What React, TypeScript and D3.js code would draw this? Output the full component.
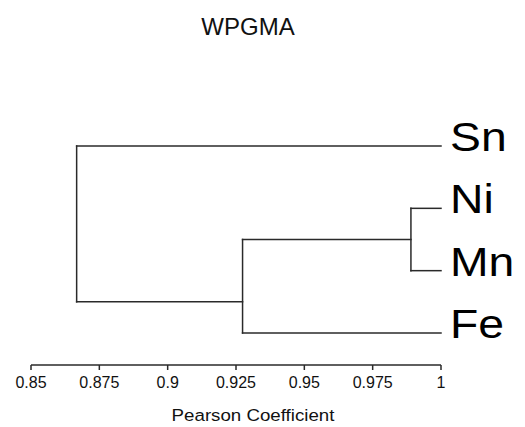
import React from "react";
import * as d3 from "d3";

const leaves = ["Sn", "Ni", "Mn", "Fe"];
// merges: [left child, right child, similarity]
const merges: [string, string, number][] = [
  ["Ni", "Mn", 0.989],
  ["Ni+Mn", "Fe", 0.9274],
  ["Sn", "Ni+Mn+Fe", 0.8667],
];
const tickValues = [0.85, 0.875, 0.9, 0.925, 0.95, 0.975, 1];
const tickLabels = ["0.85", "0.875", "0.9", "0.925", "0.95", "0.975", "1"];
const title = "WPGMA";
const xTitle = "Pearson Coefficient";

const W = 525;
const H = 427;
const FONT = "'Liberation Sans', Arial, sans-serif";
const STROKE = "#2a2a2a";

export default function App() {
  const x = d3.scaleLinear().domain([0.85, 1]).range([31, 441]);
  const y = d3.scalePoint<string>().domain(leaves).range([146, 333]);

  type Node = { name: string; x: number; y: number; first: string; last: string };
  const nodes: Record<string, Node> = {};
  leaves.forEach((l) => {
    nodes[l] = { name: l, x: x(1), y: y(l)!, first: l, last: l };
  });
  const segs: { x1: number; y1: number; x2: number; y2: number }[] = [];
  merges.forEach(([a, b, s]) => {
    const A = nodes[a];
    const B = nodes[b];
    const nx = x(s);
    const ny = (y(A.last)! + y(B.first)!) / 2;
    segs.push({ x1: nx, y1: A.y, x2: nx, y2: B.y });
    segs.push({ x1: nx, y1: A.y, x2: A.x, y2: A.y });
    segs.push({ x1: nx, y1: B.y, x2: B.x, y2: B.y });
    const name = a + "+" + b;
    nodes[name] = { name, x: nx, y: ny, first: A.first, last: B.last };
  });

  const axisY = 365;
  const labelX = x(1) + 9;

  return (
    <svg
      width={W}
      height={H}
      style={{ position: "absolute", left: 0, top: 0, background: "#fff" }}
      fontFamily={FONT}
    >
      <rect x={0} y={0} width={W} height={H} fill="#fff" />
      <text x={248} y={35} textAnchor="middle" fontSize={24} fill="#111">
        {title}
      </text>
      <g stroke={STROKE} strokeWidth={1.5} fill="none">
        {segs.map((s, i) => (
          <line key={i} x1={s.x1} y1={s.y1} x2={s.x2} y2={s.y2} strokeLinecap="square" />
        ))}
      </g>
      {leaves.map((l) => (
        <text
          key={l}
          x={0}
          y={0}
          transform={`translate(${labelX},${y(l)! + 5}) scale(1.13,1)`}
          fontSize={41}
          fill="#000"
        >
          {l}
        </text>
      ))}
      <g>
        <line x1={x(0.85)} x2={x(1)} y1={axisY} y2={axisY} stroke={STROKE} strokeWidth={1.5} />
        {tickValues.map((t, i) => (
          <g key={t}>
            <line x1={x(t)} x2={x(t)} y1={axisY} y2={axisY + 5} stroke={STROKE} strokeWidth={1.5} />
            <text x={x(t)} y={388} textAnchor="middle" fontSize={16} fill="#111">
              {tickLabels[i]}
            </text>
          </g>
        ))}
      </g>
      <text
        x={0}
        y={0}
        transform={`translate(253,421) scale(1.1,1)`}
        textAnchor="middle"
        fontSize={17}
        fill="#111"
      >
        {xTitle}
      </text>
    </svg>
  );
}
